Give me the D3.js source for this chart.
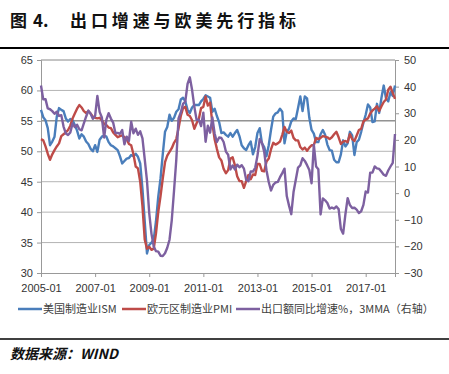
<!DOCTYPE html>
<html>
<head>
<meta charset="utf-8">
<script src="https://cdn.jsdelivr.net/npm/d3@7/dist/d3.min.js"></script>
<style>
  body { margin: 0; background: #fff; }
  svg { display: block; }
  .tick text { font-family: "Liberation Sans", Arial, sans-serif; font-size: 11px; fill: #333; }
</style>
</head>
<body>
<div id="chart"></div>
<script>
// months 2005-01 .. 2018-02
const months = [];
for (let y = 2005; y <= 2018; y++) {
  for (let m = 1; m <= 12; m++) {
    if (y === 2018 && m > 2) break;
    months.push(y + "-" + String(m).padStart(2, "0"));
  }
}

const xTickLabels = ["2005-01", "2007-01", "2009-01", "2011-01", "2013-01", "2015-01", "2017-01"];
const leftTicks = [30, 35, 40, 45, 50, 55, 60, 65];
const rightTicks = [-30, -20, -10, 0, 10, 20, 30, 40, 50];

const seriesNames = ["美国制造业ISM", "欧元区制造业PMI", "出口额同比增速%，3MMA（右轴）"];

// 美国制造业ISM
const ism = [
  56.8, 55.6, 55.1, 53.8, 51.0, 51.6, 52.4, 55.7, 57.1, 56.8, 56.6, 55.4,
  54.9, 55.3, 55.1, 54.3, 53.4, 52.1, 52.8, 52.4, 51.6, 51.2, 50.4, 50.0,
  51.0, 49.9, 51.9, 52.4, 52.6, 52.4, 51.5, 51.0, 50.8, 50.5, 50.2, 49.2,
  48.0, 48.4, 48.8, 48.9, 49.4, 49.2, 49.6, 49.1, 48.0, 43.8, 38.5, 33.2,
  34.6, 35.0, 35.5, 38.5, 42.5, 45.5, 49.5, 53.2, 54.0, 56.0, 55.0, 55.5,
  56.5, 56.9, 58.5, 58.8, 58.2, 56.8, 56.3, 57.2, 57.6, 57.6, 57.6, 58.2,
  58.6, 59.2, 59.0, 58.8, 56.5, 57.0, 55.8, 54.8, 53.0, 53.1, 52.7, 52.4,
  53.0, 52.4, 53.0, 53.5, 52.5, 51.0, 50.5, 50.2, 51.0, 51.6, 49.5, 50.7,
  53.0, 53.8, 51.3, 50.7, 49.2, 51.0, 53.5, 55.7, 56.2, 56.4, 57.0, 56.5,
  51.3, 53.2, 53.7, 54.9, 55.4, 55.3, 57.1, 59.0, 56.6, 59.0, 58.7, 55.5,
  53.5, 52.9, 51.5, 51.5, 52.8, 53.5, 52.7, 51.1, 50.2, 50.1, 48.6, 48.2,
  48.2, 49.5, 51.8, 50.8, 51.3, 53.2, 52.6, 49.4, 51.5, 51.9, 53.2, 54.7,
  56.0, 57.7, 57.2, 54.8, 54.9, 57.8, 56.3, 58.8, 60.8, 58.7, 58.2, 59.7,
  59.1, 60.8
];

// 欧元区制造业PMI
const pmi = [
  52.0, 51.8, 50.8, 49.6, 48.6, 49.5, 50.2, 50.8, 51.3, 52.5, 52.8, 53.1,
  53.5, 54.2, 55.4, 56.2, 57.0, 57.6, 57.2, 56.6, 56.3, 56.6, 56.2, 55.7,
  55.5, 55.4, 55.5, 55.1, 54.5, 54.3, 53.9, 53.8, 53.1, 52.7, 52.3, 52.5,
  52.6, 52.3, 52.0, 51.2, 51.0, 49.5, 47.5, 47.2, 45.0, 41.0, 35.5, 34.0,
  34.3, 33.8, 34.0, 36.5, 40.0, 42.6, 45.5, 48.2, 49.3, 49.9, 50.5, 51.4,
  52.0, 53.8, 55.8, 57.1, 57.3, 56.0, 55.8, 55.1, 53.7, 54.6, 55.3, 57.1,
  57.3, 59.0, 57.5, 58.0, 54.6, 52.0, 50.4, 49.0, 48.5, 47.1, 46.4, 46.9,
  48.8, 49.0, 47.7, 45.9, 45.1, 45.1, 44.0, 45.1, 46.1, 45.4, 46.2, 46.1,
  47.9, 47.9, 46.8, 46.7, 48.3, 48.8, 50.3, 51.4, 51.1, 51.3, 51.6, 52.7,
  54.0, 53.2, 53.0, 53.4, 52.2, 51.8, 51.8, 50.7, 50.3, 50.6, 50.1, 50.6,
  51.0, 51.0, 52.2, 52.0, 52.2, 52.5, 52.4, 52.3, 52.0, 52.3, 52.8, 53.2,
  52.3, 51.2, 51.6, 51.7, 51.5, 52.8, 52.0, 51.7, 52.6, 53.5, 53.7, 54.9,
  55.2, 55.4, 56.2, 56.7, 57.0, 57.4, 56.6, 57.4, 58.1, 58.5, 60.1, 60.6,
  59.6, 58.6
];

// 出口额同比增速%，3MMA（右轴）
const exportGrowth = [
  40.4, 35.2, 35.3, 31.8, 31.5, 30.8, 29.8, 30.6, 29.0, 29.3, 25.0, 22.4,
  21.8, 22.8, 26.2, 24.8, 25.7, 24.0, 23.6, 26.2, 28.7, 31.0, 29.8, 27.9,
  29.0, 36.5, 30.5, 28.4, 20.9, 27.6, 30.0, 28.0, 26.5, 22.6, 22.6, 22.3,
  23.7, 18.3, 21.2, 19.6, 26.8, 22.5, 24.2, 21.9, 23.2, 20.6, 12.8, 4.7,
  -7.5, -15.3, -20.1, -21.8, -22.0, -23.5, -23.6, -22.6, -20.5, -17.5, -10.1, 0.9,
  12.5, 28.1, 30.3, 33.5, 34.4, 41.0, 43.5, 38.8, 32.5, 27.5, 27.6, 25.2,
  30.2, 19.3, 25.3, 22.7, 28.4, 22.4, 19.2, 20.9, 20.7, 19.2, 15.6, 14.4,
  8.9, 10.4, 8.9, 10.7, 9.7, 10.5, 9.2, 5.0, 4.5, 8.1, 8.1, 9.5,
  14.0, 20.3, 18.9, 15.5, 8.6, 4.2, 1.0, 3.1, 4.0, 4.2, 6.0, 7.5,
  9.2, -1.1, -4.7, -7.9, 0.4, 5.0, 9.6, 10.4, 13.1, 12.1, 10.5, 8.7,
  3.7, 18.2, 10.0, 9.0, -8.0, -2.0, -2.7, -3.7, -5.8, -5.4, -5.8, -5.0,
  -6.0, -13.5, -15.2, -8.0, -1.9, -4.5, -5.6, -5.5, -6.2, -7.5, -6.8, -4.4,
  0.6, 0.2, 7.7, 7.7, 10.0, 9.3, 9.1, 8.0, 6.9, 6.5, 8.5, 10.0,
  11.4, 22.2
];

const colors = ["#4a7ebb", "#be4b48", "#7d60a0"];

function drawChart() {
  const width = 449, height = 374;
  const plot = { left: 41, right: 395, top: 60, bottom: 273 };

  const svg = d3.select("#chart").append("svg")
    .attr("width", width)
    .attr("height", height);

  // title
  const title = svg.append("text")
    .attr("y", 27)
    .style("font-family", "'Noto Sans CJK SC', sans-serif")
    .style("font-weight", "bold")
    .style("font-size", "17px")
    .attr("fill", "#111");
  title.append("tspan").attr("x", 10).text("图");
  title.append("tspan").attr("x", 33).text("4.");
  title.append("tspan").attr("x", 70).style("letter-spacing", "3.9px").text("出口增速与欧美先行指标");

  svg.append("line")
    .attr("x1", 0).attr("x2", width).attr("y1", 48).attr("y2", 48)
    .attr("stroke", "#000").attr("stroke-width", 2);

  const x = d3.scalePoint().domain(months).range([plot.left, plot.right]);
  const yLeft = d3.scaleLinear().domain([30, 65]).range([plot.bottom, plot.top]);
  const yRight = d3.scaleLinear().domain([-30, 50]).range([plot.bottom, plot.top]);

  // gridlines
  svg.append("g")
    .selectAll("line")
    .data(leftTicks.filter(d => d > 30))
    .enter().append("line")
    .attr("x1", plot.left).attr("x2", plot.right)
    .attr("y1", d => yLeft(d)).attr("y2", d => yLeft(d))
    .attr("stroke", d => d === 55 ? "#5a5a5a" : (d === 65 ? "#888" : "#b4b4b4"))
    .attr("stroke-width", 1);

  // axes
  const axisLeft = svg.append("g")
    .attr("transform", `translate(${plot.left},0)`)
    .call(d3.axisLeft(yLeft).tickValues(leftTicks).tickSize(4).tickPadding(4));
  const axisRight = svg.append("g")
    .attr("transform", `translate(${plot.right},0)`)
    .call(d3.axisRight(yRight).tickValues(rightTicks).tickSize(4).tickPadding(5));
  const axisBottom = svg.append("g")
    .attr("transform", `translate(0,${plot.bottom})`)
    .call(d3.axisBottom(x).tickValues(xTickLabels).tickSize(4).tickPadding(5));

  [axisLeft, axisRight, axisBottom].forEach(g => {
    g.select(".domain").attr("stroke", "#999");
    g.selectAll(".tick line").attr("stroke", "#999");
  });
  axisBottom.selectAll(".tick text").attr("dy", "0.9em");

  // series
  const lineLeft = d3.line().x((d, i) => x(months[i])).y(d => yLeft(d));
  const lineRight = d3.line().x((d, i) => x(months[i])).y(d => yRight(d));

  [[ism, lineLeft], [pmi, lineLeft], [exportGrowth, lineRight]].forEach(([values, gen], i) => {
    svg.append("path")
      .datum(values)
      .attr("fill", "none")
      .attr("stroke", colors[i])
      .attr("stroke-width", 2.4)
      .attr("stroke-linejoin", "round")
      .attr("d", gen);
  });

  // legend
  const legendX = [18, 122, 236];
  const legend = svg.append("g")
    .selectAll("g")
    .data(seriesNames)
    .enter().append("g")
    .attr("transform", (d, i) => `translate(${legendX[i]},309)`);
  legend.append("line")
    .attr("x1", 0).attr("x2", 24)
    .attr("stroke", (d, i) => colors[i])
    .attr("stroke-width", 2.5);
  legend.append("text")
    .attr("x", 25).attr("dy", "0.35em")
    .style("font-family", "'Noto Sans CJK SC', sans-serif")
    .style("font-size", "11px")
    .attr("fill", "#404040")
    .text(d => d);

  // source
  svg.append("line")
    .attr("x1", 0).attr("x2", width).attr("y1", 339).attr("y2", 339)
    .attr("stroke", "#000").attr("stroke-width", 1.5);
  svg.append("text")
    .attr("x", 10).attr("y", 359)
    .style("font-family", "'Noto Sans CJK SC', sans-serif")
    .style("font-size", "14px")
    .style("font-weight", "bold")
    .style("font-style", "italic")
    .attr("fill", "#111")
    .text("数据来源：WIND");
}

drawChart();
</script>
</body>
</html>
